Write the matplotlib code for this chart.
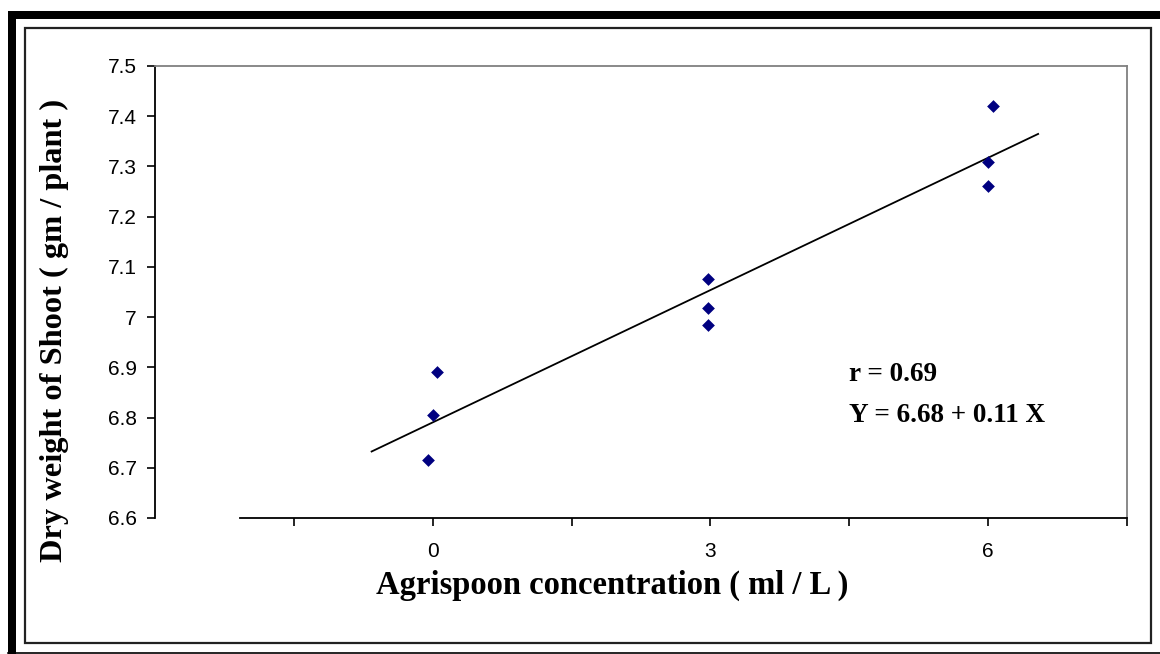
import numpy as np
import matplotlib
matplotlib.use("Agg")
import matplotlib.pyplot as plt
from matplotlib.patches import Rectangle
from matplotlib.lines import Line2D

# ── Data ───────────────────────────────────────────────────────────────────
conc = [-0.05, 0.0, 0.05, 2.97, 2.97, 2.97, 6.0, 6.0, 6.05]
dry_weight = [6.715, 6.806, 6.890, 6.984, 7.019, 7.076, 7.262, 7.309, 7.420]
fit_range = [-0.66, 6.54]

x_ticks = [-1.5, 0, 1.5, 3, 4.5, 6, 7.5]
x_ticklabels = ["", "0", "", "3", "", "6", ""]
y_ticks = [6.6, 6.7, 6.8, 6.9, 7.0, 7.1, 7.2, 7.3, 7.4, 7.5]
y_ticklabels = ["6.6", "6.7", "6.8", "6.9", "7", "7.1", "7.2", "7.3", "7.4", "7.5"]

SANS = "Liberation Sans"
SERIF = "Liberation Serif"
NAVY = "#000080"
GREY = "#808080"

fig = plt.figure(figsize=(11.6, 6.54), dpi=100)
W, H = 1160, 654


def px_rect(x0, y0, x1, y1, **kw):
    fig.add_artist(Rectangle((x0 / W, 1 - y1 / H), (x1 - x0) / W, (y1 - y0) / H,
                             transform=fig.transFigure, **kw))


# ── Frames: thick black band top/left, thin line at bottom, inner box ─────
px_rect(8, 11, 1160, 19, facecolor="black", edgecolor="none")
px_rect(8, 11, 16, 654, facecolor="black", edgecolor="none")
fig.add_artist(Line2D([8 / W, 1], [1 - 653 / H, 1 - 653 / H], transform=fig.transFigure,
                      color="black", lw=1.2))
px_rect(25, 28, 1151, 643, facecolor="none", edgecolor="#222222", lw=1.6)

# ── Axes ───────────────────────────────────────────────────────────────────
ax = fig.add_axes([155 / W, 1 - 518 / H, (1127 - 155) / W, (518 - 66) / H])
ax.set_xlim(-3.0, 7.5)
ax.set_ylim(6.6, 7.5)

ax.scatter(conc, dry_weight, marker="D", s=6.5 ** 2, color=NAVY, zorder=3, lw=0)

slope, intercept = np.polyfit(conc, dry_weight, 1)
xf = np.array(fit_range)
ax.plot(xf, intercept + slope * xf, color="black", lw=1.3, zorder=2)

ax.set_xticks(x_ticks)
ax.set_xticklabels(x_ticklabels, fontfamily=SANS, fontsize=15)
ax.set_yticks(y_ticks)
ax.set_yticklabels(y_ticklabels, fontfamily=SANS, fontsize=15)
ax.tick_params(axis="x", direction="out", length=6, width=1.2, pad=11)
ax.tick_params(axis="y", direction="out", length=6, width=1.2, pad=7)

ax.spines["left"].set_linewidth(1.3)
ax.spines["bottom"].set_linewidth(1.3)
ax.spines["bottom"].set_bounds(-2.08, 7.5)
for s in ("top", "right"):
    ax.spines[s].set_color(GREY)
    ax.spines[s].set_linewidth(1.3)

ax.set_xlabel("Agrispoon concentration ( ml / L )", fontfamily=SERIF,
              fontweight="bold", fontsize=23.5, va="center")
ax.xaxis.set_label_coords(0.470, -0.148)
ax.set_ylabel("Dry weight of Shoot ( gm / plant )", fontfamily=SERIF,
              fontweight="bold", fontsize=23.3, va="center")
ax.yaxis.set_label_coords(-0.103, 0.416)

ax.text(4.5, 6.885, "r = 0.69", fontfamily=SERIF, fontweight="bold",
        fontsize=19.5, va="center", ha="left")
ax.text(4.5, 6.805, "Y = 6.68 + 0.11 X", fontfamily=SERIF, fontweight="bold",
        fontsize=19.5, va="center", ha="left")

fig.savefig("out.png", dpi=100)
